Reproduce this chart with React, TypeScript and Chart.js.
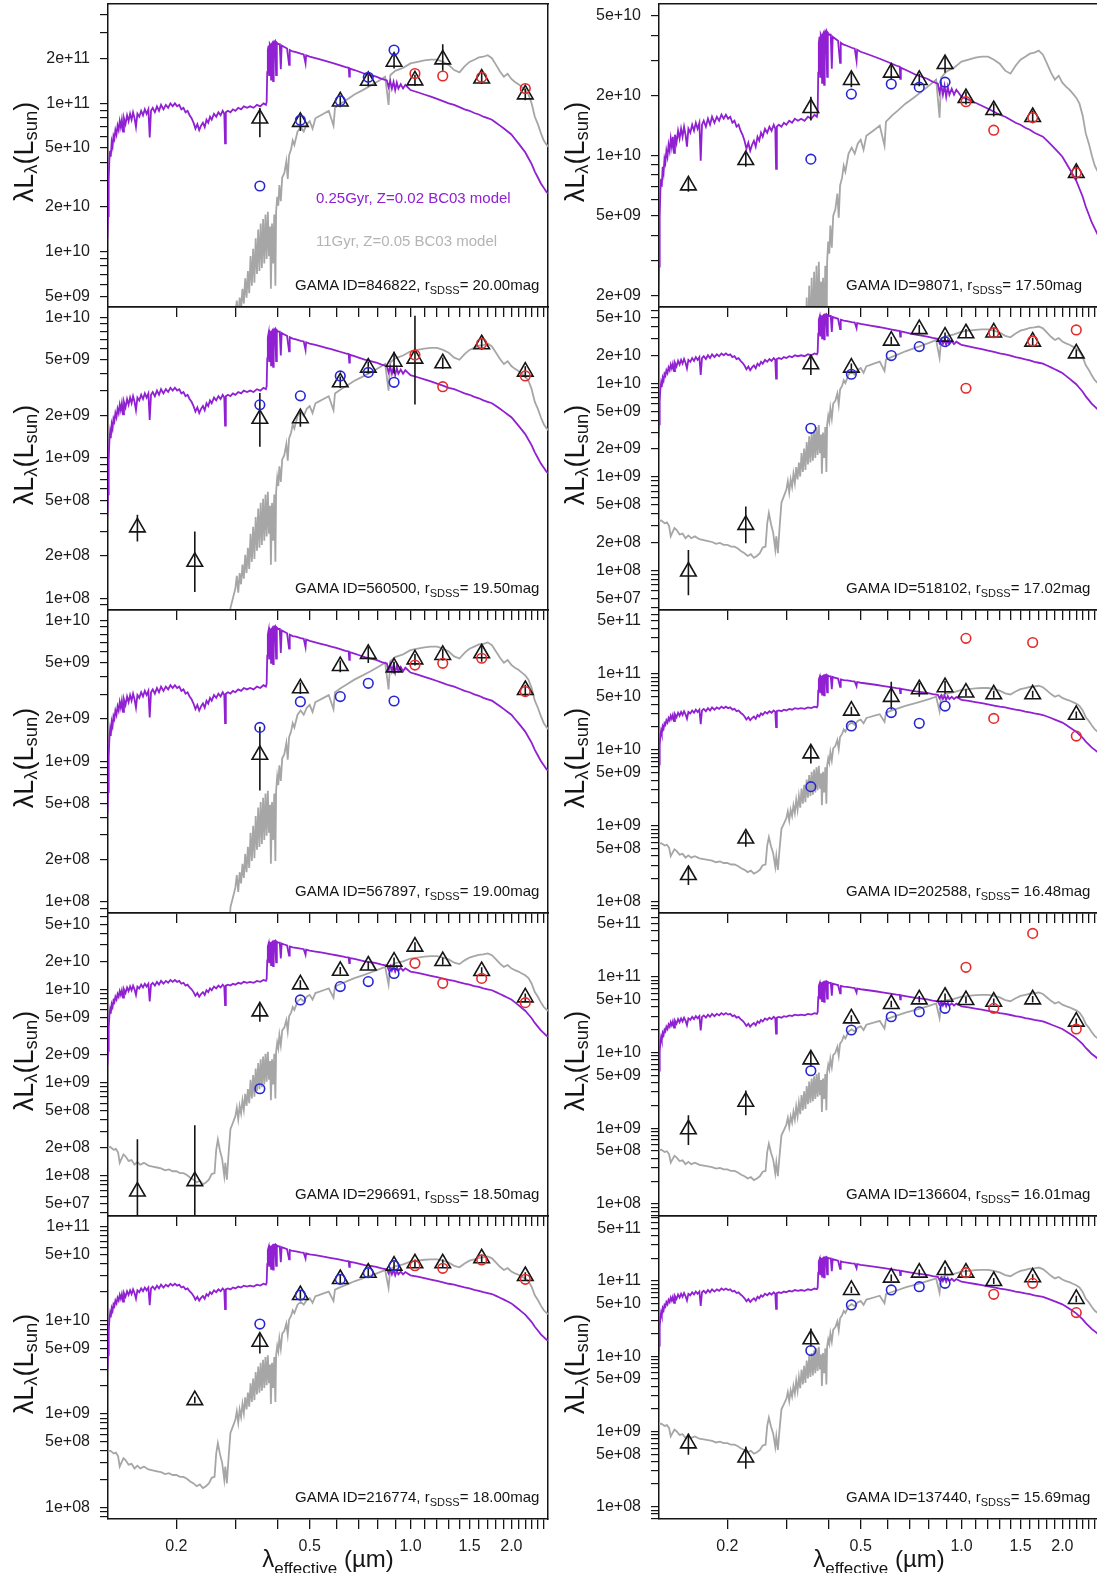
import React, { useEffect, useRef } from "react";
import { Chart, registerables } from "chart.js";

Chart.register(...registerables);

const FONT = "'Liberation Sans', Arial, Helvetica, sans-serif";
const PURPLE = "#9020d2";
const GREY = "#a6a6a6";
const GREY_TEXT = "#b4b4b4";
const BLUE = "#2626d6";
const RED = "#e42a2a";
const INK = "#151515";

// ---------- wavelengths (micron) ----------
const GAMA_WAVE = [0.153, 0.227, 0.355, 0.469, 0.617, 0.748, 0.893, 1.031, 1.248, 1.631, 2.201];
const SDSS_WAVE = [0.355, 0.469, 0.617, 0.748, 0.893];
const UKIDSS_WAVE = [1.031, 1.248, 1.631, 2.201];

const X_MIN = 0.125;
const X_MAX = 2.573;
const X_TICKS = [0.2, 0.3, 0.4, 0.5, 0.6, 0.7, 0.8, 0.9, 1.0, 1.1, 1.2, 1.3, 1.4, 1.5, 1.6, 1.7, 1.8, 1.9, 2.0, 2.1, 2.2, 2.3, 2.4, 2.5];
const X_TICK_LABELS = ["0.2", "", "", "0.5", "", "", "", "", "1.0", "", "", "", "", "1.5", "", "", "", "", "2.0", "", "", "", "", ""];

// ---------- model templates: [wavelength, log10(L / L(1 micron))] ----------
const YOUNG_TEMPLATE: [number, number][] = [
  [0.1245, -1.0], [0.125, -0.85], [0.1256, -0.6], [0.1262, -0.47], [0.1268, -0.41], [0.1274, -0.45],
  [0.1282, -0.35], [0.129, -0.38], [0.1298, -0.31], [0.1306, -0.33], [0.1315, -0.27], [0.1325, -0.3],
  [0.1335, -0.24], [0.1345, -0.27], [0.1355, -0.21], [0.1365, -0.25], [0.1375, -0.2], [0.1386, -0.28],
  [0.1395, -0.19], [0.141, -0.23], [0.1425, -0.17], [0.144, -0.21], [0.1455, -0.16], [0.147, -0.2],
  [0.1485, -0.15], [0.15, -0.19], [0.1515, -0.25], [0.153, -0.16], [0.155, -0.18], [0.157, -0.14],
  [0.159, -0.17], [0.161, -0.13], [0.163, -0.16], [0.165, -0.13], [0.1665, -0.32], [0.168, -0.14],
  [0.17, -0.12], [0.1725, -0.15], [0.175, -0.11], [0.1775, -0.14], [0.18, -0.1], [0.183, -0.13],
  [0.186, -0.1], [0.189, -0.12], [0.192, -0.09], [0.195, -0.11], [0.198, -0.09], [0.201, -0.11],
  [0.204, -0.1], [0.207, -0.13], [0.21, -0.12], [0.213, -0.15], [0.216, -0.14], [0.219, -0.17],
  [0.222, -0.19], [0.225, -0.22], [0.228, -0.26], [0.231, -0.23], [0.234, -0.27], [0.237, -0.24],
  [0.24, -0.22], [0.243, -0.25], [0.246, -0.2], [0.249, -0.22], [0.252, -0.18], [0.255, -0.2],
  [0.259, -0.16], [0.263, -0.18], [0.267, -0.15], [0.271, -0.17], [0.275, -0.14], [0.278, -0.16],
  [0.2795, -0.36], [0.281, -0.15], [0.285, -0.14], [0.29, -0.15], [0.295, -0.13], [0.3, -0.14],
  [0.306, -0.12], [0.312, -0.13], [0.318, -0.11], [0.325, -0.12], [0.332, -0.11], [0.34, -0.12],
  [0.348, -0.1], [0.356, -0.11], [0.364, -0.09], [0.37, -0.1], [0.372, -0.08], [0.3735, 0.12],
  [0.375, 0.27], [0.377, 0.3], [0.3785, 0.1], [0.38, 0.31], [0.382, 0.3], [0.3835, 0.07],
  [0.385, 0.31], [0.3875, 0.32], [0.389, 0.06], [0.3905, 0.32], [0.394, 0.33], [0.397, 0.1],
  [0.399, 0.32], [0.403, 0.31], [0.407, 0.31], [0.41, 0.14], [0.4125, 0.3], [0.42, 0.29],
  [0.428, 0.28], [0.434, 0.17], [0.436, 0.27], [0.445, 0.26], [0.455, 0.255], [0.47, 0.245],
  [0.48, 0.24], [0.486, 0.18], [0.488, 0.235], [0.5, 0.225], [0.52, 0.215], [0.54, 0.205],
  [0.56, 0.195], [0.58, 0.185], [0.6, 0.175], [0.62, 0.165], [0.64, 0.155], [0.654, 0.15],
  [0.6563, 0.09], [0.659, 0.145], [0.68, 0.135], [0.7, 0.125], [0.73, 0.11], [0.76, 0.1],
  [0.79, 0.09], [0.82, 0.075], [0.85, 0.065], [0.86, 0.02], [0.87, 0.06], [0.88, 0.01],
  [0.89, 0.055], [0.9, 0.0], [0.91, 0.05], [0.92, 0.01], [0.935, 0.04], [0.95, 0.01],
  [0.965, 0.035], [0.98, 0.02], [1.0, 0.0], [1.05, -0.015], [1.1, -0.03], [1.15, -0.045],
  [1.2, -0.06], [1.25, -0.075], [1.3, -0.09], [1.35, -0.1], [1.4, -0.115], [1.45, -0.13],
  [1.5, -0.14], [1.55, -0.155], [1.6, -0.165], [1.65, -0.18], [1.7, -0.19], [1.75, -0.2],
  [1.8, -0.22], [1.85, -0.24], [1.9, -0.26], [1.95, -0.28], [2.0, -0.3], [2.05, -0.33],
  [2.1, -0.36], [2.15, -0.39], [2.2, -0.42], [2.25, -0.46], [2.3, -0.5], [2.35, -0.55],
  [2.4, -0.59], [2.45, -0.63], [2.5, -0.66], [2.55, -0.69], [2.6, -0.7],
];

const OLD_TEMPLATE: [number, number][] = [
  [0.1245, -2.03], [0.127, -2.02], [0.13, -2.05], [0.132, -2.04], [0.134, -2.08], [0.1355, -2.19],
  [0.137, -2.15], [0.139, -2.1], [0.141, -2.12], [0.144, -2.17], [0.147, -2.16], [0.15, -2.21],
  [0.153, -2.18], [0.156, -2.21], [0.16, -2.19], [0.165, -2.22], [0.17, -2.23], [0.175, -2.24],
  [0.18, -2.25], [0.185, -2.27], [0.19, -2.26], [0.195, -2.28], [0.2, -2.28], [0.205, -2.3],
  [0.21, -2.3], [0.215, -2.32], [0.22, -2.35], [0.225, -2.37], [0.23, -2.4], [0.235, -2.38],
  [0.24, -2.42], [0.245, -2.4], [0.25, -2.37], [0.255, -2.31], [0.26, -2.3], [0.263, -2.05],
  [0.266, -1.94], [0.27, -2.06], [0.274, -2.15], [0.278, -2.33], [0.28, -2.19], [0.283, -2.37],
  [0.286, -2.12], [0.29, -1.83], [0.295, -1.76], [0.3, -1.69], [0.303, -1.6], [0.306, -1.72],
  [0.309, -1.58], [0.312, -1.66], [0.315, -1.52], [0.318, -1.62], [0.321, -1.45], [0.324, -1.58],
  [0.327, -1.4], [0.33, -1.55], [0.333, -1.3], [0.336, -1.5], [0.339, -1.25], [0.342, -1.48],
  [0.345, -1.18], [0.348, -1.42], [0.351, -1.12], [0.354, -1.4], [0.357, -1.08], [0.36, -1.38],
  [0.363, -1.05], [0.366, -1.35], [0.369, -1.02], [0.372, -1.32], [0.375, -1.0], [0.378, -1.3],
  [0.381, -1.1], [0.383, -1.52], [0.386, -1.08], [0.389, -1.35], [0.392, -1.02], [0.395, -1.5],
  [0.397, -1.0], [0.4, -0.9], [0.403, -0.96], [0.406, -0.82], [0.41, -0.93], [0.414, -0.77],
  [0.42, -0.74], [0.426, -0.66], [0.43, -0.78], [0.434, -0.62], [0.44, -0.58], [0.445, -0.52],
  [0.45, -0.55], [0.46, -0.46], [0.47, -0.43], [0.48, -0.46], [0.49, -0.41], [0.5, -0.39],
  [0.51, -0.44], [0.52, -0.37], [0.53, -0.36], [0.55, -0.34], [0.57, -0.32], [0.589, -0.42],
  [0.595, -0.3], [0.62, -0.27], [0.65, -0.24], [0.68, -0.21], [0.72, -0.18], [0.76, -0.15],
  [0.8, -0.12], [0.84, -0.09], [0.86, -0.28], [0.87, -0.08], [0.9, -0.05], [0.95, -0.03],
  [1.0, 0.0], [1.05, 0.01], [1.1, 0.02], [1.15, 0.025], [1.2, 0.025], [1.25, 0.01],
  [1.3, -0.01], [1.35, -0.045], [1.4, -0.06], [1.45, -0.02], [1.5, 0.01], [1.55, 0.025],
  [1.6, 0.04], [1.65, 0.045], [1.7, 0.055], [1.75, 0.035], [1.8, -0.01], [1.85, -0.055],
  [1.9, -0.09], [1.95, -0.07], [2.0, -0.105], [2.05, -0.125], [2.1, -0.14], [2.15, -0.16],
  [2.2, -0.18], [2.25, -0.21], [2.3, -0.27], [2.35, -0.36], [2.4, -0.41], [2.45, -0.47],
  [2.5, -0.52], [2.55, -0.55], [2.6, -0.57],
];

// ---------- per-galaxy photometry (lambda L_lambda, L_sun) ----------
// GAMA ID 846822
const G846822_TRI = [null, null, 7.9e10, 7.5e10, 1.03e11, 1.42e11, 1.91e11, 1.43e11, 1.98e11, 1.47e11, 1.15e11];
const G846822_LO = [null, null, 5.9e10, 6.5e10, 9.4e10, 1.3e11, 1.72e11, 1.31e11, 1.66e11, 1.35e11, 1.05e11];
const G846822_HI = [null, null, 9.3e10, 8.5e10, 1.12e11, 1.55e11, 2.12e11, 1.56e11, 2.5e11, 1.6e11, 1.26e11];
const G846822_SDSS = [2.77e10, 7.7e10, 1.04e11, 1.5e11, 2.29e11];
const G846822_UKIDSS = [1.59e11, 1.53e11, 1.5e11, 1.26e11];
const G846822_YLAB = [2e11, 1e11, 5e10, 2e10, 1e10, 5e9];

// GAMA ID 560500
const G560500_TRI = [3.2e8, 1.82e8, 1.9e9, 1.92e9, 3.46e9, 4.4e9, 4.85e9, 5.1e9, 4.73e9, 6.46e9, 4.12e9];
const G560500_LO = [2.54e8, 1.11e8, 1.2e9, 1.67e9, 3.15e9, 4.0e9, 4.0e9, 2.4e9, 4.3e9, 5.9e9, 3.75e9];
const G560500_HI = [3.93e8, 2.99e8, 2.9e9, 2.14e9, 3.8e9, 4.85e9, 5.7e9, 1.03e10, 5.2e9, 7.1e9, 4.5e9];
const G560500_SDSS = [2.39e9, 2.77e9, 3.84e9, 4.07e9, 3.46e9];
const G560500_UKIDSS = [5.42e9, 3.22e9, 6.53e9, 3.84e9];
const G560500_YLAB = [1e10, 5e9, 2e9, 1e9, 5e8, 2e8, 1e8];

// GAMA ID 567897
const G567897_TRI = [null, null, 1.11e9, 3.3e9, 4.75e9, 5.8e9, 4.65e9, 5.3e9, 5.7e9, 5.86e9, 3.21e9];
const G567897_LO = [null, null, 6.2e8, 3.0e9, 4.3e9, 5.0e9, 4.2e9, 4.8e9, 5.2e9, 5.1e9, 2.9e9];
const G567897_HI = [null, null, 1.76e9, 3.63e9, 5.2e9, 6.5e9, 5.1e9, 5.8e9, 6.25e9, 6.6e9, 3.5e9];
const G567897_SDSS = [1.74e9, 2.65e9, 2.88e9, 3.58e9, 2.68e9];
const G567897_UKIDSS = [4.83e9, 4.97e9, 5.4e9, 3.13e9];
const G567897_YLAB = [1e10, 5e9, 2e9, 1e9, 5e8, 2e8, 1e8];

// GAMA ID 296691
const G296691_TRI = [6.8e7, 8.8e7, 5.8e9, 1.13e10, 1.58e10, 1.8e10, 1.98e10, 2.87e10, 2.01e10, 1.57e10, 8.2e9];
const G296691_LO = [2e7, 2e7, 4.5e9, 1.03e10, 1.44e10, 1.62e10, 1.8e10, 2.55e10, 1.83e10, 1.43e10, 7.4e9];
const G296691_HI = [2.47e8, 3.5e8, 7.1e9, 1.25e10, 1.74e10, 1.98e10, 2.2e10, 3.2e10, 2.2e10, 1.73e10, 9.0e9];
const G296691_SDSS = [8.6e8, 7.7e9, 1.07e10, 1.21e10, 1.48e10];
const G296691_UKIDSS = [1.9e10, 1.16e10, 1.31e10, 7.2e9];
const G296691_YLAB = [5e10, 2e10, 1e10, 5e9, 2e9, 1e9, 5e8, 2e8, 1e8, 5e7];

// GAMA ID 216774
const G216774_TRI = [null, 1.4e9, 5.9e9, 1.86e10, 2.76e10, 3.22e10, 3.83e10, 4.06e10, 4.06e10, 4.59e10, 2.97e10];
const G216774_LO = [null, 1.3e9, 4.4e9, 1.7e10, 2.5e10, 2.95e10, 3.5e10, 3.7e10, 3.7e10, 4.2e10, 2.7e10];
const G216774_HI = [null, 1.52e9, 7.2e9, 2.05e10, 3.05e10, 3.55e10, 4.2e10, 4.45e10, 4.45e10, 5.05e10, 3.25e10];
const G216774_SDSS = [9.1e9, 1.86e10, 2.74e10, 3.22e10, 3.83e10];
const G216774_UKIDSS = [3.83e10, 3.59e10, 4.41e10, 2.74e10];
const G216774_YLAB = [1e11, 5e10, 1e10, 5e9, 1e9, 5e8, 1e8];

// GAMA ID 98071
const G98071_TRI = [7.1e9, 9.5e9, 1.73e10, 2.39e10, 2.6e10, 2.39e10, 2.87e10, 1.94e10, 1.69e10, 1.56e10, 8.2e9];
const G98071_LO = [6.6e9, 8.8e9, 1.5e10, 2.2e10, 2.4e10, 2.22e10, 2.6e10, 1.8e10, 1.57e10, 1.45e10, 7.6e9];
const G98071_HI = [7.7e9, 1.03e10, 1.97e10, 2.6e10, 2.82e10, 2.57e10, 3.15e10, 2.09e10, 1.82e10, 1.68e10, 8.9e9];
const G98071_SDSS = [9.6e9, 2.03e10, 2.28e10, 2.2e10, 2.33e10];
const G98071_UKIDSS = [1.86e10, 1.34e10, 1.55e10, 8.2e9];
const G98071_YLAB = [5e10, 2e10, 1e10, 5e9, 2e9];

// GAMA ID 518102
const G518102_TRI = [9.7e7, 3.06e8, 1.6e10, 1.47e10, 2.86e10, 3.8e10, 3.16e10, 3.43e10, 3.5e10, 2.79e10, 2.09e10];
const G518102_LO = [5.4e7, 1.95e8, 1.23e10, 1.32e10, 2.6e10, 3.45e10, 2.85e10, 3.1e10, 3.17e10, 2.52e10, 1.9e10];
const G518102_HI = [1.65e8, 4.8e8, 2.0e10, 1.63e10, 3.15e10, 4.2e10, 3.5e10, 3.8e10, 3.9e10, 3.08e10, 2.3e10];
const G518102_SDSS = [3.3e9, 1.25e10, 1.98e10, 2.47e10, 2.79e10];
const G518102_UKIDSS = [8.85e9, 3.48e10, 2.84e10, 3.72e10];
const G518102_YLAB = [5e10, 2e10, 1e10, 5e9, 2e9, 1e9, 5e8, 2e8, 1e8, 5e7];

// GAMA ID 202588
const G202588_TRI = [2.25e8, 6.8e8, 9.0e9, 3.29e10, 5.0e10, 6.3e10, 6.7e10, 5.7e10, 5.4e10, 5.4e10, 2.9e10];
const G202588_LO = [1.66e8, 5.3e8, 6.6e9, 2.9e10, 3.4e10, 5.0e10, 5.5e10, 5.1e10, 4.85e10, 4.85e10, 2.6e10];
const G202588_HI = [2.9e8, 8.3e8, 1.16e10, 3.7e10, 7.9e10, 7.6e10, 8.1e10, 6.3e10, 6.0e10, 6.0e10, 3.2e10];
const G202588_SDSS = [3.28e9, 2.07e10, 3.1e10, 2.24e10, 3.78e10];
const G202588_UKIDSS = [2.95e11, 2.6e10, 2.6e11, 1.52e10];
const G202588_YLAB = [5e11, 1e11, 5e10, 1e10, 5e9, 1e9, 5e8, 1e8];

// GAMA ID 136604
const G136604_TRI = [9.7e8, 2.24e9, 8.1e9, 2.82e10, 4.36e10, 5.02e10, 5.44e10, 4.92e10, 4.68e10, 5.02e10, 2.55e10];
const G136604_LO = [6.0e8, 1.49e9, 6.5e9, 2.55e10, 3.95e10, 4.55e10, 4.9e10, 4.45e10, 4.2e10, 4.55e10, 2.3e10];
const G136604_HI = [1.49e9, 3.16e9, 1.02e10, 3.1e10, 4.8e10, 5.55e10, 6.0e10, 5.45e10, 5.15e10, 5.55e10, 2.8e10];
const G136604_SDSS = [5.74e9, 1.98e10, 2.96e10, 3.45e10, 3.82e10];
const G136604_UKIDSS = [1.33e11, 3.82e10, 3.73e11, 2.04e10];
const G136604_YLAB = [5e11, 1e11, 5e10, 1e10, 5e9, 1e9, 5e8, 1e8];

// GAMA ID 137440
const G137440_TRI = [6.95e8, 4.5e8, 1.68e10, 7.6e10, 1.11e11, 1.29e11, 1.4e11, 1.29e11, 1.0e11, 1.12e11, 5.77e10];
const G137440_LO = [4.9e8, 3.2e8, 1.34e10, 6.9e10, 1.0e11, 1.17e11, 1.23e11, 1.17e11, 9.1e10, 1.02e11, 5.2e10];
const G137440_HI = [9.3e8, 6.3e8, 2.34e10, 8.4e10, 1.22e11, 1.42e11, 1.55e11, 1.42e11, 1.1e11, 1.23e11, 6.35e10];
const G137440_SDSS = [1.19e10, 4.8e10, 7.6e10, 8.4e10, 9.3e10];
const G137440_UKIDSS = [1.29e11, 6.65e10, 9.3e10, 3.8e10];
const G137440_YLAB = [5e11, 1e11, 5e10, 1e10, 5e9, 1e9, 5e8, 1e8];

type PanelDef = {
  id: string; mag: string; col: number; row: number; yMin: number; yMax: number;
  yLabels: number[]; tri: (number | null)[]; lo: (number | null)[]; hi: (number | null)[];
  sdss: number[]; ukidss: number[]; youngNorm: number; oldNorm: number;
};

const PANELS: PanelDef[] = [
  { id: "846822", mag: "20.00", col: 0, row: 0, yMin: 4.23e9, yMax: 4.68e11, yLabels: G846822_YLAB, tri: G846822_TRI, lo: G846822_LO, hi: G846822_HI, sdss: G846822_SDSS, ukidss: G846822_UKIDSS, youngNorm: 1.23e11, oldNorm: 1.86e11 },
  { id: "560500", mag: "19.50", col: 0, row: 1, yMin: 8.25e7, yMax: 1.19e10, yLabels: G560500_YLAB, tri: G560500_TRI, lo: G560500_LO, hi: G560500_HI, sdss: G560500_SDSS, ukidss: G560500_UKIDSS, youngNorm: 3.89e9, oldNorm: 5.75e9 },
  { id: "567897", mag: "19.00", col: 0, row: 2, yMin: 8.32e7, yMax: 1.19e10, yLabels: G567897_YLAB, tri: G567897_TRI, lo: G567897_LO, hi: G567897_HI, sdss: G567897_SDSS, ukidss: G567897_UKIDSS, youngNorm: 4.27e9, oldNorm: 6.17e9 },
  { id: "296691", mag: "18.50", col: 0, row: 3, yMin: 3.72e7, yMax: 6.58e10, yLabels: G296691_YLAB, tri: G296691_TRI, lo: G296691_LO, hi: G296691_HI, sdss: G296691_SDSS, ukidss: G296691_UKIDSS, youngNorm: 1.55e10, oldNorm: 2.14e10 },
  { id: "216774", mag: "18.00", col: 0, row: 4, yMin: 7.52e7, yMax: 1.3e11, yLabels: G216774_YLAB, tri: G216774_TRI, lo: G216774_LO, hi: G216774_HI, sdss: G216774_SDSS, ukidss: G216774_UKIDSS, youngNorm: 3.02e10, oldNorm: 4.23e10 },
  { id: "98071", mag: "17.50", col: 1, row: 0, yMin: 1.75e9, yMax: 5.73e10, yLabels: G98071_YLAB, tri: G98071_TRI, lo: G98071_LO, hi: G98071_HI, sdss: G98071_SDSS, ukidss: G98071_UKIDSS, youngNorm: 1.97e10, oldNorm: 2.95e10 },
  { id: "518102", mag: "17.02", col: 1, row: 1, yMin: 3.76e7, yMax: 6.55e10, yLabels: G518102_YLAB, tri: G518102_TRI, lo: G518102_LO, hi: G518102_HI, sdss: G518102_SDSS, ukidss: G518102_UKIDSS, youngNorm: 2.57e10, oldNorm: 3.57e10 },
  { id: "202588", mag: "16.48", col: 1, row: 2, yMin: 7.1e7, yMax: 6.97e11, yLabels: G202588_YLAB, tri: G202588_TRI, lo: G202588_LO, hi: G202588_HI, sdss: G202588_SDSS, ukidss: G202588_UKIDSS, youngNorm: 4.57e10, oldNorm: 6.17e10 },
  { id: "136604", mag: "16.01", col: 1, row: 3, yMin: 6.95e7, yMax: 6.93e11, yLabels: G136604_YLAB, tri: G136604_TRI, lo: G136604_LO, hi: G136604_HI, sdss: G136604_SDSS, ukidss: G136604_UKIDSS, youngNorm: 4.07e10, oldNorm: 5.45e10 },
  { id: "137440", mag: "15.69", col: 1, row: 4, yMin: 6.86e7, yMax: 7.31e11, yLabels: G137440_YLAB, tri: G137440_TRI, lo: G137440_LO, hi: G137440_HI, sdss: G137440_SDSS, ukidss: G137440_UKIDSS, youngNorm: 9.77e10, oldNorm: 1.33e11 },
];

// ---------- layout ----------
const COL_LEFT = [108, 659];
const ROW_TOP = [4, 307, 610, 913, 1216];
const PLOT_W = 440;
const PLOT_H = 303;
const Y_AXIS_W = 75;

function decadeTicks(min: number, max: number): number[] {
  const out: number[] = [];
  const e0 = Math.floor(Math.log10(min));
  const e1 = Math.ceil(Math.log10(max));
  for (let e = e0; e <= e1; e++) {
    for (let m = 1; m < 10; m++) {
      const v = m * Math.pow(10, e);
      if (v >= min && v <= max) out.push(v);
    }
  }
  return out;
}

function fmtR(v: number): string {
  const e = Math.floor(Math.log10(v) + 1e-9);
  const m = Math.round(v / Math.pow(10, e));
  const sign = e < 0 ? "-" : "+";
  const a = Math.abs(e);
  return `${m}e${sign}${a < 10 ? "0" : ""}${a}`;
}

function zeroPad(s: any) {
  s.paddingLeft = 0;
  s.paddingRight = 0;
  s.paddingTop = 0;
  s.paddingBottom = 0;
}

function SedPanel({ p }: { p: PanelDef }) {
  const ref = useRef<HTMLCanvasElement | null>(null);
  const isBottom = p.row === 4;
  const xh = isBottom ? 46 : 11;
  const w = Y_AXIS_W + PLOT_W + 2;
  const h = 2 + PLOT_H + xh;

  useEffect(() => {
    const canvas = ref.current;
    if (!canvas) return;
    const yTicks = decadeTicks(p.yMin, p.yMax);
    const isLabeled = (v: number) => p.yLabels.some((l) => Math.abs(v / l - 1) < 1e-6);

    const gama: { x: number; y: number }[] = [];
    const err: { x: number; y: number | null }[] = [];
    GAMA_WAVE.forEach((x, i) => {
      const v = p.tri[i];
      if (v == null) return;
      gama.push({ x, y: v });
      err.push({ x, y: p.lo[i] as number }, { x, y: p.hi[i] as number }, { x, y: null });
    });
    const young = YOUNG_TEMPLATE.map(([x, r]) => ({ x, y: p.youngNorm * Math.pow(10, r) }));
    const old = OLD_TEMPLATE.map(([x, r]) => ({ x, y: p.oldNorm * Math.pow(10, r) }));

    const chart = new Chart(canvas, {
      type: "scatter",
      data: {
        datasets: [
          { label: "UKIDSS", data: UKIDSS_WAVE.map((x, i) => ({ x, y: p.ukidss[i] })), pointStyle: "circle", pointRadius: 4.8, pointBorderColor: RED, pointBackgroundColor: "rgba(0,0,0,0)", pointBorderWidth: 1.6, showLine: false, order: 0 },
          { label: "SDSS", data: SDSS_WAVE.map((x, i) => ({ x, y: p.sdss[i] })), pointStyle: "circle", pointRadius: 4.8, pointBorderColor: BLUE, pointBackgroundColor: "rgba(0,0,0,0)", pointBorderWidth: 1.6, showLine: false, order: 0 },
          { label: "GAMA", data: gama, pointStyle: "triangle", pointRadius: 9, pointBorderColor: INK, pointBackgroundColor: "rgba(0,0,0,0)", pointBorderWidth: 1.6, showLine: false, order: 1 },
          { label: "err", data: err as any, showLine: true, spanGaps: false, borderColor: INK, borderWidth: 1.6, pointRadius: 0, order: 2 },
          { label: "young", data: young, showLine: true, borderColor: PURPLE, borderWidth: 1.8, pointRadius: 0, order: 3 },
          { label: "old", data: old, showLine: true, borderColor: GREY, borderWidth: 1.8, pointRadius: 0, order: 4 },
        ],
      },
      options: {
        responsive: false,
        animation: false,
        events: [],
        layout: { autoPadding: false, padding: { top: 2, right: 2, left: 0, bottom: 0 } },
        plugins: { legend: { display: false }, tooltip: { enabled: false } },
        scales: {
          x: {
            type: "logarithmic",
            position: "bottom",
            min: X_MIN,
            max: X_MAX,
            bounds: "data",
            afterBuildTicks: (s: any) => { s.ticks = X_TICKS.map((v) => ({ value: v })); },
            afterFit: (s: any) => { s.height = xh; zeroPad(s); },
            ticks: {
              autoSkip: false, maxRotation: 0, minRotation: 0, padding: 8, color: "#1c1c1c",
              font: { family: FONT, size: 16 },
              callback: (_v: any, i: number) => (isBottom ? X_TICK_LABELS[i] : ""),
            },
            grid: { display: true, drawOnChartArea: false, drawTicks: true, tickLength: 10, color: INK, lineWidth: 1.3 },
            border: { display: true, color: INK, width: 1.5 },
          },
          y: {
            type: "logarithmic",
            position: "left",
            min: p.yMin,
            max: p.yMax,
            bounds: "data",
            afterBuildTicks: (s: any) => { s.ticks = yTicks.map((v) => ({ value: v })); },
            afterFit: (s: any) => { s.width = Y_AXIS_W; zeroPad(s); },
            ticks: {
              autoSkip: false, padding: 10, color: "#1c1c1c",
              font: { family: FONT, size: 16 },
              callback: (_v: any, i: number) => (isLabeled(yTicks[i]) ? fmtR(yTicks[i]) : ""),
            },
            grid: { display: true, drawOnChartArea: false, drawTicks: true, tickLength: 8, color: INK, lineWidth: 1.2 },
            border: { display: true, color: INK, width: 1.5 },
          },
          xTop: {
            type: "linear", position: "top", min: 0, max: 1, display: true,
            afterFit: (s: any) => { s.height = 0; zeroPad(s); },
            ticks: { display: false }, grid: { display: false, drawTicks: false },
            border: { display: true, color: INK, width: 1.5 },
          },
          yRight: {
            type: "linear", position: "right", min: 0, max: 1, display: true,
            afterFit: (s: any) => { s.width = 0; zeroPad(s); },
            ticks: { display: false }, grid: { display: false, drawTicks: false },
            border: { display: true, color: INK, width: 1.5 },
          },
        },
      } as any,
    });
    return () => chart.destroy();
  }, [p]);

  return (
    <canvas
      ref={ref}
      width={w}
      height={h}
      style={{ position: "absolute", left: COL_LEFT[p.col] - Y_AXIS_W, top: ROW_TOP[p.row] - 2, width: w, height: h }}
    />
  );
}

const subY: React.CSSProperties = { fontSize: "0.68em", position: "relative", top: "0.22em" };

export default function App() {
  return (
    <div style={{ position: "absolute", left: 0, top: 0, width: 1097, height: 1573, overflow: "hidden", background: "#fff", fontFamily: FONT, color: INK }}>
      {PANELS.map((p) => (
        <SedPanel key={p.id} p={p} />
      ))}
      {PANELS.map((p) => (
        <div
          key={"yt" + p.id}
          style={{ position: "absolute", left: COL_LEFT[p.col] - 83, top: ROW_TOP[p.row] + PLOT_H / 2 - 4, transform: "translate(-50%,-50%) rotate(-90deg)", fontSize: 27, lineHeight: "30px", whiteSpace: "nowrap" }}
        >
          λL<span style={subY}>λ</span>(L<span style={subY}>sun</span>)
        </div>
      ))}
      {PANELS.map((p) => (
        <div
          key={"id" + p.id}
          style={{ position: "absolute", left: COL_LEFT[p.col] + 187, top: ROW_TOP[p.row] + PLOT_H - 22 - 9, fontSize: 15, lineHeight: "18px", whiteSpace: "nowrap" }}
        >
          GAMA ID={p.id}, r<span style={{ fontSize: 11, position: "relative", top: 4 }}>SDSS</span>= {p.mag}mag
        </div>
      ))}
      <div style={{ position: "absolute", left: 316, top: 189, fontSize: 15, lineHeight: "18px", color: PURPLE, whiteSpace: "nowrap" }}>
        0.25Gyr, Z=0.02 BC03 model
      </div>
      <div style={{ position: "absolute", left: 316, top: 232, fontSize: 15, lineHeight: "18px", color: GREY_TEXT, whiteSpace: "nowrap" }}>
        11Gyr, Z=0.05 BC03 model
      </div>
      {COL_LEFT.map((cl, i) => (
        <div
          key={"xt" + i}
          style={{ position: "absolute", left: cl + PLOT_W / 2, top: 1545, transform: "translateX(-50%)", fontSize: 24, lineHeight: "28px", whiteSpace: "nowrap" }}
        >
          λ<span style={{ fontSize: 17, position: "relative", top: 7 }}>effective</span> (µm)
        </div>
      ))}
    </div>
  );
}
